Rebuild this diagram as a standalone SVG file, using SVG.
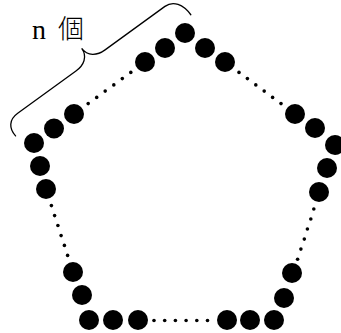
<svg xmlns="http://www.w3.org/2000/svg" width="341" height="333" viewBox="0 0 341 333">
<style>
.big{fill:#000}
.small{fill:#000}
.brace{fill:none;stroke:#000;stroke-width:1.3;stroke-linecap:round}
.lbl{font-family:"Liberation Serif","Noto Sans CJK JP",serif;font-size:28px;fill:#000}
.cjk{font-family:"Noto Sans CJK JP",sans-serif;font-size:26px;font-weight:300}
</style>
<rect width="341" height="333" fill="#fff"/>
<g id="label">
<text class="lbl" x="32" y="38.5">n <tspan class="cjk" x="58" y="38">個</tspan></text>
</g>
<g id="brace">
<path class="brace" transform="translate(81.7,48.3) rotate(-36)" d="M -105,32 C -106,22 -101,15 -90,15 L -18,15 C -8,15 0,10 0,0 C 0,10 8,15 18,15 L 92,15 C 102,15 108,24 108,37"/>
</g>
<g id="vertex-top">
<circle class="big" cx="185" cy="33" r="10"/>
<circle class="big" cx="165" cy="48" r="10"/>
<circle class="big" cx="145" cy="62" r="10"/>
<circle class="big" cx="205" cy="48" r="10"/>
<circle class="big" cx="225" cy="62" r="10"/>
</g>
<g id="vertex-upper-left">
<circle class="big" cx="34" cy="143" r="10"/>
<circle class="big" cx="54" cy="128.5" r="10"/>
<circle class="big" cx="74" cy="114" r="10"/>
<circle class="big" cx="40" cy="166" r="10"/>
<circle class="big" cx="46" cy="189" r="10"/>
</g>
<g id="vertex-upper-right">
<circle class="big" cx="295" cy="114" r="10"/>
<circle class="big" cx="315" cy="128" r="10"/>
<circle class="big" cx="335" cy="145" r="10"/>
<circle class="big" cx="327" cy="168" r="10"/>
<circle class="big" cx="319" cy="192" r="10"/>
</g>
<g id="vertex-lower-left">
<circle class="big" cx="73" cy="272" r="10"/>
<circle class="big" cx="82" cy="295" r="10"/>
<circle class="big" cx="89" cy="320" r="10"/>
<circle class="big" cx="113" cy="320" r="10"/>
<circle class="big" cx="138" cy="320" r="10"/>
</g>
<g id="vertex-lower-right">
<circle class="big" cx="227" cy="320" r="10"/>
<circle class="big" cx="250" cy="320" r="10"/>
<circle class="big" cx="274" cy="320" r="10"/>
<circle class="big" cx="284" cy="298" r="10"/>
<circle class="big" cx="292" cy="273" r="10"/>
</g>
<g id="connectors">
<g id="edge-top-left">
<circle class="small" cx="88.2" cy="103.6" r="1.8"/>
<circle class="small" cx="96.7" cy="97.4" r="1.8"/>
<circle class="small" cx="105.2" cy="91.1" r="1.8"/>
<circle class="small" cx="113.8" cy="84.9" r="1.8"/>
<circle class="small" cx="122.3" cy="78.6" r="1.8"/>
<circle class="small" cx="130.8" cy="72.4" r="1.8"/>
</g>
<g id="edge-top-right">
<circle class="small" cx="239" cy="72.4" r="1.8"/>
<circle class="small" cx="247.4" cy="78.6" r="1.8"/>
<circle class="small" cx="255.8" cy="84.9" r="1.8"/>
<circle class="small" cx="264.2" cy="91.1" r="1.8"/>
<circle class="small" cx="272.6" cy="97.4" r="1.8"/>
<circle class="small" cx="281" cy="103.6" r="1.8"/>
</g>
<g id="edge-left">
<circle class="small" cx="51.4" cy="205.6" r="1.8"/>
<circle class="small" cx="54.6" cy="215.6" r="1.8"/>
<circle class="small" cx="57.9" cy="225.5" r="1.8"/>
<circle class="small" cx="61.1" cy="235.6" r="1.8"/>
<circle class="small" cx="64.4" cy="245.4" r="1.8"/>
<circle class="small" cx="67.6" cy="255.4" r="1.8"/>
</g>
<g id="edge-bottom">
<circle class="small" cx="154" cy="320.5" r="1.8"/>
<circle class="small" cx="164.7" cy="320.5" r="1.8"/>
<circle class="small" cx="175.4" cy="320.5" r="1.8"/>
<circle class="small" cx="186.1" cy="320.5" r="1.8"/>
<circle class="small" cx="196.8" cy="320.5" r="1.8"/>
<circle class="small" cx="207.5" cy="320.5" r="1.8"/>
</g>
<g id="edge-right">
<circle class="small" cx="313.8" cy="209" r="1.8"/>
<circle class="small" cx="310.8" cy="219" r="1.8"/>
<circle class="small" cx="307.4" cy="229" r="1.8"/>
<circle class="small" cx="304.3" cy="239.1" r="1.8"/>
<circle class="small" cx="300.9" cy="249.1" r="1.8"/>
<circle class="small" cx="297.6" cy="259.2" r="1.8"/>
</g>
</g>
</svg>
